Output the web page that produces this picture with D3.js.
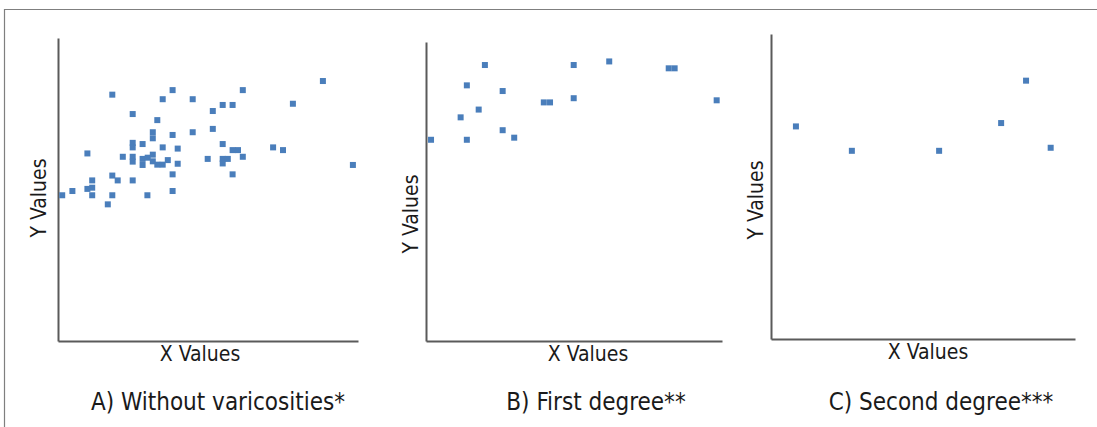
<!DOCTYPE html>
<html><head><meta charset="utf-8">
<script src="https://cdn.jsdelivr.net/npm/d3@7"></script>
<style>
html,body{margin:0;padding:0;background:#fff;}
svg text{font-family:"Liberation Sans Narrow","DejaVu Sans Condensed","Open Sans",sans-serif;fill:#1a1a1a;}
</style></head>
<body>
<svg id="c" width="1097" height="427"></svg>
<script>
// Panel titles and axis labels
const panelTitles = ["A) Without varicosities*", "B) First degree**", "C) Second degree***"];
const xLabel = "X Values";
const yLabel = "Y Values";

// Panel A: without varicosities (x, y on 0-100 relative scale)
const dataA = [
  [88.3,85.8],[18.1,81.3],[38.2,82.8],[61.6,82.8],[34.9,79.8],[44.9,79.8],[54.9,77.9],[58.2,77.9],
  [78.3,78.3],[51.6,75.9],[24.9,74.9],[33.1,72.9],[31.6,68.9],[44.9,68.9],[51.6,70.0],[31.6,66.9],
  [38.2,68.0],[24.9,65.4],[24.9,63.9],[28.2,65.0],[54.9,65.0],[34.9,63.9],[39.9,63.5],[58.2,63.0],
  [60.0,63.0],[71.7,63.9],[75.0,63.0],[9.8,61.9],[21.6,60.8],[24.9,60.8],[24.9,59.2],[28.2,60.1],
  [29.9,60.5],[31.6,61.5],[31.6,59.3],[33.1,58.2],[34.9,58.2],[36.6,59.7],[28.2,58.1],[39.9,58.5],
  [49.9,60.1],[54.9,60.1],[56.6,60.1],[54.9,58.6],[61.6,60.8],[98.3,58.1],[38.2,55.0],[58.2,55.0],
  [11.4,53.0],[18.1,54.6],[19.9,53.0],[24.9,53.0],[9.8,50.2],[11.4,50.6],[4.8,49.5],[1.4,48.1],
  [11.4,48.1],[18.1,48.1],[29.8,48.1],[38.2,49.5],[16.6,45.1]
];
// Panel B: first degree
const dataB = [
  [19.9,92.3],[49.9,92.3],[61.9,93.5],[82.0,91.2],[84.0,91.2],[13.8,85.5],[25.9,83.6],[39.8,79.8],
  [41.9,79.8],[49.9,81.2],[98.2,80.5],[17.8,77.4],[11.7,74.8],[25.9,70.5],[1.7,67.3],[13.8,67.3],
  [29.8,68.0]
];
// Panel C: second degree
const dataC = [
  [8.2,69.7],[26.6,61.7],[55.3,61.7],[75.7,70.8],[83.9,84.7],[92.0,62.7]
];

const svg = d3.select("#c");
const color = "#4a7ebb";
const axisColor = "#5a5a5a";

// outer frame (top and left edges)
svg.append("line").attr("x1",4).attr("x2",1097).attr("y1",9.5).attr("y2",9.5)
  .attr("stroke","#7f7f7f").attr("stroke-width",1.2);
svg.append("line").attr("x1",4.5).attr("x2",4.5).attr("y1",9).attr("y2",427)
  .attr("stroke","#7f7f7f").attr("stroke-width",1.2);

const panels = [
  {data:dataA, left:58, right:358, top:38, bottom:341, xl:[200,355], yl:[40,198], title:[218,403]},
  {data:dataB, left:426, right:722, top:42, bottom:341, xl:[588,355], yl:[412,214], title:[596,403]},
  {data:dataC, left:771, right:1075, top:34, bottom:339, xl:[928,353], yl:[757,200], title:[941,403]}
];

panels.forEach((p,i)=>{
  const x = d3.scaleLinear().domain([0,100]).range([p.left,p.right]);
  const y = d3.scaleLinear().domain([0,100]).range([p.bottom,p.top]);
  const g = svg.append("g");
  // axes
  g.append("g").attr("transform",`translate(0,${p.bottom})`)
    .call(d3.axisBottom(x).tickValues([]).tickSizeOuter(0))
    .call(s=>s.select(".domain").attr("stroke",axisColor).attr("stroke-width",2));
  g.append("g").attr("transform",`translate(${p.left},0)`)
    .call(d3.axisLeft(y).tickValues([]).tickSizeOuter(0))
    .call(s=>s.select(".domain").attr("stroke",axisColor).attr("stroke-width",2));
  // points
  const sz = 6;
  g.selectAll("rect.pt").data(p.data).join("rect").attr("class","pt")
    .attr("x",d=>x(d[0])-sz/2).attr("y",d=>y(d[1])-sz/2)
    .attr("width",sz).attr("height",sz).attr("fill",color);
  // labels
  svg.append("text").attr("x",p.xl[0]).attr("y",p.xl[1]).attr("text-anchor","middle")
    .attr("dominant-baseline","middle").attr("font-size",21).text(xLabel);
  svg.append("text").attr("transform",`translate(${p.yl[0]},${p.yl[1]}) rotate(-90)`)
    .attr("text-anchor","middle").attr("dominant-baseline","middle").attr("font-size",21).text(yLabel);
  svg.append("text").attr("x",p.title[0]).attr("y",p.title[1]).attr("text-anchor","middle")
    .attr("dominant-baseline","middle").attr("font-size",24).text(panelTitles[i]);
});
</script>
</body></html>
